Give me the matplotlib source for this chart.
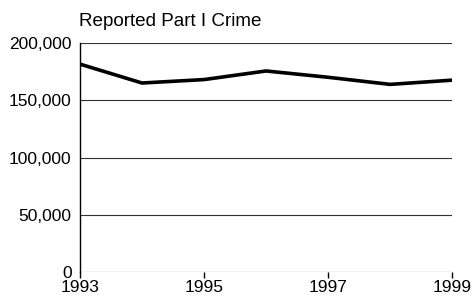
import matplotlib
matplotlib.use("Agg")
import matplotlib.pyplot as plt
from matplotlib.ticker import FuncFormatter

years = [1993, 1994, 1995, 1996, 1997, 1998, 1999]
crimes = [181500, 165000, 168000, 175500, 170000, 163800, 167500]
yticks = [0, 50000, 100000, 150000, 200000]
xticks = [1993, 1995, 1997, 1999]

plt.rcParams['font.family'] = ['Liberation Sans', 'DejaVu Sans']

fig = plt.figure(figsize=(4.73, 3.0), dpi=100)
ax = fig.add_axes([0.169, 0.093, 0.787, 0.764])

for y in yticks:
    ax.axhline(y, color="#333333", lw=0.8, zorder=1)
ax.plot(years, crimes, color="black", lw=2.6, zorder=3,
        solid_joinstyle="round")

ax.set_xlim(1993, 1999)
ax.set_ylim(0, 200000)
ax.set_xticks(xticks)
ax.set_yticks(yticks)
ax.yaxis.set_major_formatter(FuncFormatter(lambda v, p: f"{int(v):,}"))

for s in ["top", "right", "bottom"]:
    ax.spines[s].set_visible(False)
ax.spines["left"].set_linewidth(1.0)
ax.tick_params(axis="y", length=0, labelsize=12.5, pad=6)
ax.tick_params(axis="x", length=4, width=1, labelsize=12.5, pad=1.5)

fig.text(0.167, 0.913, "Reported Part I Crime", fontsize=13.6)

fig.savefig("out.png", dpi=100)
